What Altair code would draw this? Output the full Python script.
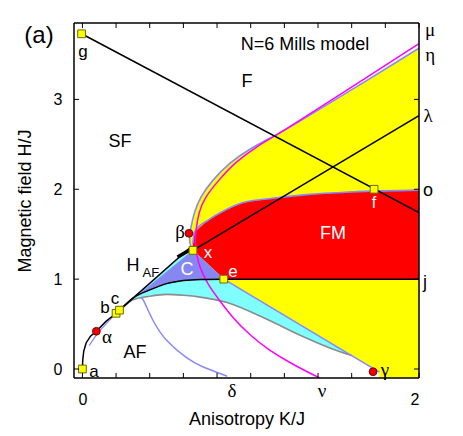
import altair as alt
import pandas as pd

XMIN, XMAX = -0.05, 2.0
YMIN, YMAX = -0.1, 3.85

# ---------------- curves ----------------
# left boundary of the yellow region (light slate blue)
yb_x = [0.650, 0.638, 0.636, 0.643, 0.663, 0.702, 0.772, 0.869, 1.010, 1.149, 1.268, 1.595, 2.0]
yb_y = [1.34, 1.40, 1.47, 1.56, 1.74, 1.92, 2.10, 2.29, 2.47, 2.60, 2.73, 3.10, 3.57]
# top of FM (red) region
rt_x = [0.657, 0.665, 0.75, 0.85, 0.95, 1.13, 1.33, 1.60, 2.0]
rt_y = [1.40, 1.52, 1.66, 1.77, 1.85, 1.90, 1.94, 1.97, 1.99]
# outer black boundary a -> alpha -> b -> c -> towards x
bo_x = [0.0, 0.002, 0.008, 0.022, 0.048, 0.083, 0.14, 0.20, 0.22, 0.645]
bo_y = [0.0, 0.10, 0.20, 0.29, 0.365, 0.42, 0.53, 0.62, 0.655, 1.36]
# lower black boundary of region C
bl_x = [0.23, 0.30, 0.40, 0.50, 0.60, 0.70, 0.84]
bl_y = [0.67, 0.79, 0.88, 0.95, 0.985, 0.997, 1.0]
# grey curve
gr_x = [0.23, 0.30, 0.40, 0.50, 0.60, 0.70, 0.86, 1.10, 1.30, 1.49, 1.60]
gr_y = [0.665, 0.77, 0.81, 0.83, 0.82, 0.80, 0.74, 0.55, 0.37, 0.22, 0.15]
# diagonal e -> gamma
dg_x = [0.84, 1.60, 1.765]
dg_y = [1.0, 0.149, -0.035]
# blue curve ending at delta
dl_x = [0.35, 0.363, 0.42, 0.50, 0.625, 0.70, 0.86]
dl_y = [0.795, 0.775, 0.52, 0.30, 0.11, 0.03, -0.08]
# short blue segment near alpha
sa_x = [0.04, 0.09, 0.18]
sa_y = [0.26, 0.40, 0.58]
# magenta curve (nu ... mu)
mg_x = [1.41, 1.25, 1.10, 1.00, 0.90, 0.80, 0.745, 0.70, 0.68, 0.668, 0.675, 0.69, 0.73, 0.81,
        0.90, 1.03, 1.15, 1.26, 1.57, 2.0]
mg_y = [-0.10, 0.05, 0.22, 0.37, 0.55, 0.80, 0.94, 1.12, 1.25, 1.40, 1.55, 1.74, 1.92, 2.10,
        2.29, 2.47, 2.60, 2.73, 3.10, 3.62]
# straight black lines
gf_x, gf_y = [-0.005, 2.0], [3.73, 1.74]
xl_x, xl_y = [0.657, 2.0], [1.32, 2.82]
ej_x, ej_y = [0.84, 2.0], [1.0, 1.0]
bk_x, bk_y = [0.565, 0.652], [1.245, 1.34]

# special points
sq_names = ["a", "b", "c", "x", "e", "f", "g"]
sq_x = [0.0, 0.20, 0.22, 0.657, 0.84, 1.733, -0.005]
sq_y = [0.0, 0.62, 0.655, 1.32, 1.0, 2.0, 3.73]
rd_names = ["alpha", "beta", "gamma"]
rd_x = [0.083, 0.633, 1.727]
rd_y = [0.42, 1.51, -0.03]

# ticks
x_ticks = [0.0, 0.2, 0.4, 0.6, 0.8, 1.0, 1.2, 1.4, 1.6, 1.8, 2.0]
y_ticks = [0, 1, 2, 3]

# labels
sans_text = ["(a)", "N=6 Mills model", "F", "SF", "FM", "C", "x", "e", "f", "g", "a", "b", "c",
             "AF", "H", "AF", "o", "j"]
sans_x = [-0.258, 1.322, 0.978, 0.224, 1.489, 0.621, 0.746, 0.895, 1.733, 0.004, 0.069, 0.134,
          0.194, 0.313, 0.301, 0.407, 2.054, 2.036]
sans_y = [3.70, 3.60, 3.19, 2.525, 1.50, 1.10, 1.29, 1.08, 1.85, 3.53, -0.03, 0.68, 0.78, 0.18,
          1.146, 1.07, 1.98, 0.957]
sans_col = ["black", "black", "black", "black", "white", "white", "white", "white", "white",
            "black", "black", "black", "black", "black", "black", "black", "black", "black"]
sans_fs = [24, 18, 18, 18, 18, 18, 17, 17, 16, 17, 17, 17, 17, 18, 18, 13, 18, 18]

greek_text = ["α", "β", "γ", "μ", "η", "λ", "δ", "ν"]
greek_x = [0.146, 0.58, 1.798, 2.066, 2.066, 2.054, 0.889, 1.424]
greek_y = [0.36, 1.52, -0.01, 3.77, 3.49, 2.81, -0.245, -0.245]

# ---------------- build tables ----------------
def pts(xs, ys):
    return list(zip(xs, ys))

polys = {
    "yellow": pts(yb_x, yb_y) + [(2.0, YMIN), (1.765, YMIN), (1.765, -0.035), (0.84, 1.0), (0.657, 1.32)],
    "red": [(0.657, 1.32)] + pts(rt_x, rt_y) + [(2.0, 1.0), (0.84, 1.0)],
    "cyan": [(0.22, 0.655), (0.645, 1.36), (0.657, 1.32)] + pts(dg_x[:2], dg_y[:2])
            + pts(gr_x, gr_y)[::-1],
    "C": [(0.23, 0.67), (0.657, 1.32), (0.84, 1.0)] + pts(bl_x, bl_y)[::-1],
}
poly_color = {"yellow": "#ffff00", "red": "#ff0000", "cyan": "#80ffff", "C": "#8787f2"}

lines = [
    ("grey", gr_x, gr_y, "#8c8c8c", 1.6, "monotone"),
    ("diag", dg_x, dg_y, "#8888ff", 1.6, "linear"),
    ("delta", dl_x, dl_y, "#8888ff", 1.5, "basis"),
    ("alpha", sa_x, sa_y, "#8888ff", 1.2, "linear"),
    ("ybound", yb_x, yb_y, "#8888ff", 1.6, "basis"),
    ("redtop", rt_x, rt_y, "#8888ff", 1.6, "monotone"),
    ("magenta", mg_x, mg_y, "#ff00ff", 1.5, "basis"),
    ("outer", bo_x, bo_y, "black", 1.5, "linear"),
    ("lowerC", bl_x, bl_y, "black", 1.5, "monotone"),
    ("gf", gf_x, gf_y, "black", 1.5, "linear"),
    ("xl", xl_x, xl_y, "black", 1.5, "linear"),
    ("ej", ej_x, ej_y, "black", 1.5, "linear"),
    ("blob", bk_x, bk_y, "black", 3.5, "linear"),
]

X = alt.X("x:Q", scale=alt.Scale(domain=[XMIN, XMAX], nice=False, zero=False),
          axis=alt.Axis(values=[0, 1, 2], format="d", title="Anisotropy K/J", grid=False,
                        ticks=False, tickSize=0, domain=False, labelPadding=13,
                        titlePadding=3))
Y = alt.Y("y:Q", scale=alt.Scale(domain=[YMIN, YMAX], nice=False, zero=False),
          axis=alt.Axis(values=[0, 1, 2, 3], format="d", title="Magnetic field H/J", grid=False,
                        ticks=False, tickSize=0, domain=False, labelPadding=12,
                        titlePadding=19))

layers = []
for name in ["yellow", "red", "cyan", "C"]:
    p = polys[name]
    df = pd.DataFrame({"x": [q[0] for q in p], "y": [q[1] for q in p], "i": range(len(p))})
    col = poly_color[name]
    layers.append(alt.Chart(df).mark_line(fill=col, stroke=col, strokeWidth=0.5, clip=True,
                                          interpolate="linear")
                  .encode(x=X, y=Y, order="i:Q"))

for name, xs, ys, col, w, interp in lines:
    df = pd.DataFrame({"x": xs, "y": ys, "i": range(len(xs))})
    layers.append(alt.Chart(df).mark_line(color=col, strokeWidth=w, clip=True,
                                          interpolate=interp)
                  .encode(x=X, y=Y, order="i:Q"))

sq_df = pd.DataFrame({"x": sq_x, "y": sq_y, "n": sq_names})
layers.append(alt.Chart(sq_df).mark_square(size=60, fill="#ffff00", stroke="#6b6b00",
                                           strokeWidth=1, opacity=1)
              .encode(x=X, y=Y))
rd_df = pd.DataFrame({"x": rd_x, "y": rd_y, "n": rd_names})
layers.append(alt.Chart(rd_df).mark_circle(size=60, fill="#ee0000", stroke="#7a0000",
                                           strokeWidth=1, opacity=1)
              .encode(x=X, y=Y))

sans_df = pd.DataFrame({"x": sans_x, "y": sans_y, "t": sans_text, "c": sans_col, "s": sans_fs})
layers.append(alt.Chart(sans_df).mark_text(font="Liberation Sans", align="center",
                                           baseline="middle")
              .encode(x=X, y=Y, text="t:N", color=alt.Color("c:N", scale=None),
                      size=alt.Size("s:Q", scale=None)))
greek_df = pd.DataFrame({"x": greek_x, "y": greek_y, "t": greek_text})
layers.append(alt.Chart(greek_df).mark_text(font="Liberation Serif", fontSize=19,
                                            align="center", baseline="middle", color="black")
              .encode(x=X, y=Y, text="t:N"))

# inward ticks and frame
tx = 0.03
ty = 0.056
tick_rows = []
for t in x_ticks:
    tick_rows.append({"x": t, "x2": t, "y": YMIN, "y2": YMIN + ty})
    tick_rows.append({"x": t, "x2": t, "y": YMAX, "y2": YMAX - ty})
for t in y_ticks:
    tick_rows.append({"x": XMIN, "x2": XMIN + tx, "y": t, "y2": t})
    tick_rows.append({"x": XMAX, "x2": XMAX - tx, "y": t, "y2": t})
tick_df = pd.DataFrame(tick_rows)
layers.append(alt.Chart(tick_df).mark_rule(color="black", strokeWidth=1)
              .encode(x=X, y=Y, x2="x2:Q", y2="y2:Q"))
frame_df = pd.DataFrame([
    {"x": XMIN, "x2": XMAX, "y": YMIN, "y2": YMIN},
    {"x": XMIN, "x2": XMAX, "y": YMAX, "y2": YMAX},
    {"x": XMIN, "x2": XMIN, "y": YMIN, "y2": YMAX},
    {"x": XMAX, "x2": XMAX, "y": YMIN, "y2": YMAX},
])
layers.append(alt.Chart(frame_df).mark_rule(color="black", strokeWidth=1.5)
              .encode(x=X, y=Y, x2="x2:Q", y2="y2:Q"))

chart = alt.layer(*layers).properties(
    width=345, height=355,
    autosize=alt.AutoSizeParams(type="none"),
    padding={"left": 66, "top": 15, "right": 34, "bottom": 55},
).configure_view(stroke=None).configure_axis(
    labelFont="Liberation Sans", titleFont="Liberation Sans", labelFontSize=16,
    titleFontSize=18, titleFontWeight="normal", labelColor="black", titleColor="black",
)

chart.save("out.html", embed_options={"renderer": "svg", "actions": False})
